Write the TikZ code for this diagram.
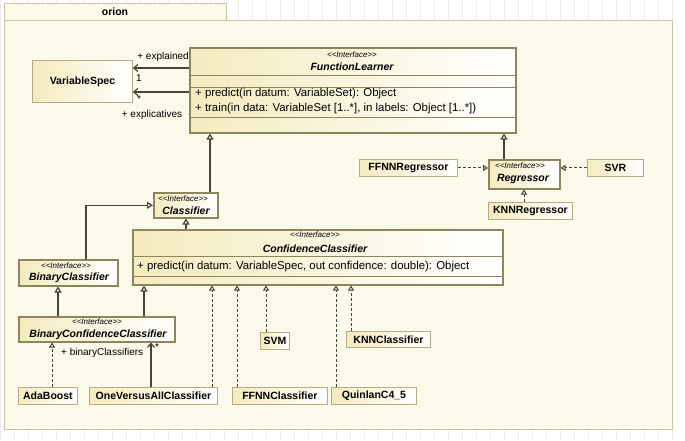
\documentclass[tikz,border=0pt]{standalone}
\usepackage{fontspec}
\setmainfont{Liberation Sans}
\usetikzlibrary{arrows.meta}
\definecolor{pkgfill}{HTML}{FBF9E9}
\definecolor{pkgline}{HTML}{C9C6A6}
\definecolor{boxl}{HTML}{F4EBBE}
\definecolor{ifline}{HTML}{8C865A}
\definecolor{clline}{HTML}{B3AC86}
\definecolor{conn}{HTML}{45453A}
\definecolor{gridc}{HTML}{ECECEC}
\tikzset{
 umlbox/.style={draw=clline, line width=0.9pt, left color=boxl, right color=white, anchor=north west, inner sep=0pt, rectangle, font=\fontsize{10.5}{12}\bfseries\selectfont},
 ifbox/.style={umlbox, draw=ifline, line width=1.5pt},
 ifnm/.style={font=\fontsize{10.5}{12}\bfseries\itshape\selectfont, inner sep=0pt},
 st/.style={font=\fontsize{8}{9}\itshape\selectfont, inner sep=0pt},
 op/.style={font=\fontsize{11.4}{13}\selectfont, inner sep=0pt, anchor=west},
 lbl/.style={font=\fontsize{10}{12}\selectfont, inner sep=0pt},
 gen/.style={draw=conn, line width=1.2pt, -{Triangle[open,length=6pt,width=7pt]}},
 real/.style={draw=conn, line width=1pt, dash pattern=on 3pt off 2pt, -{Triangle[open,length=5pt,width=6pt]}},
 assoc/.style={draw=conn, line width=1.2pt, -{Straight Barb[length=4pt,width=7pt]}},
 cline/.style={draw=ifline, line width=0.8pt},
}
\newcommand{\stereo}{<{}<Interface>{}>}
\begin{document}
\begin{tikzpicture}[x=1pt,y=-1pt]
\useasboundingbox (0,0) rectangle (685,440);
\fill[white] (0,0) rectangle (685,440);
\draw[gridc, line width=0.5pt] (0,0) grid[step=14] (685,440);
% package
\node[draw=pkgline, fill=pkgfill, line width=1pt, anchor=north west, minimum width=222pt, minimum height=17pt, inner sep=0pt] (tab) at (4,3) {};
\node[font=\fontsize{10.5}{12}\bfseries\selectfont, inner sep=0pt] (pkgname) at (115,12) {orion};
\node[draw=pkgline, fill=pkgfill, line width=1pt, anchor=north west, minimum width=668pt, minimum height=409pt, inner sep=0pt] (pkg) at (4,20) {};

% FunctionLearner
\node[ifbox, minimum width=326pt, minimum height=85pt] (FL) at (189,47) {};
\draw[cline] (189,75) -- (515,75);
\draw[cline] (189,87) -- (515,87);
\draw[cline] (189,117) -- (515,117);
\node[st] (FLs) at (352,55) {\stereo};
\node[ifnm] (FLn) at (352,67) {FunctionLearner};
\node[op] (FLo1) at (195,94) {+ predict(in datum: VariableSet): Object};
\node[op] (FLo2) at (195,109) {+ train(in data: VariableSet [1..*], in labels: Object [1..*])};

% VariableSpec
\node[umlbox, minimum width=100pt, minimum height=42pt] (VS) at (32,60) {VariableSpec};

% Classifier
\node[ifbox, minimum width=64pt, minimum height=25pt] (Cl) at (153,192) {};
\node[st] (Cls) at (183,199) {\stereo};
\node[ifnm] (Cln) at (186,211) {Classifier};

% BinaryClassifier
\node[ifbox, minimum width=99pt, minimum height=26pt] (BC) at (18,259) {};
\node[st] (BCs) at (66,266) {\stereo};
\node[ifnm] (BCn) at (69,278) {BinaryClassifier};

% ConfidenceClassifier
\node[ifbox, minimum width=370pt, minimum height=55pt] (CC) at (132,229) {};
\draw[cline] (132,256) -- (502,256);
\draw[cline] (132,276) -- (502,276);
\node[st] (CCs) at (315,235) {\stereo};
\node[ifnm] (CCn) at (315,249) {ConfidenceClassifier};
\node[op] (CCo1) at (137,267) {+ predict(in datum: VariableSpec, out confidence: double): Object};

% Regressor
\node[ifbox, minimum width=71pt, minimum height=29pt] (Reg) at (488,159) {};
\node[st] (Regs) at (520,166) {\stereo};
\node[ifnm] (Regn) at (523,179) {Regressor};

\node[umlbox, minimum width=98pt, minimum height=17pt] (FR) at (359,159) {FFNNRegressor};
\node[umlbox, minimum width=56pt, minimum height=17pt] (SVR) at (587,159) {SVR};
\node[umlbox, minimum width=84pt, minimum height=17pt] (KR) at (488,202) {KNNRegressor};

% BinaryConfidenceClassifier
\node[ifbox, minimum width=156pt, minimum height=25pt] (BCC) at (18,316) {};
\node[st] (BCCs) at (97,322) {\stereo};
\node[ifnm] (BCCn) at (98,335) {BinaryConfidenceClassifier};

% leaf classes
\node[umlbox, minimum width=59pt, minimum height=17pt] (Ada) at (18,387) {AdaBoost};
\node[umlbox, minimum width=128pt, minimum height=17pt] (OVA) at (89,387) {OneVersusAllClassifier};
\node[umlbox, minimum width=95pt, minimum height=17pt] (FC) at (232,387) {FFNNClassifier};
\node[umlbox, minimum width=29pt, minimum height=17pt] (SVM) at (260,332) {SVM};
\node[umlbox, minimum width=85pt, minimum height=17pt] (Q) at (331,387) {QuinlanC4\_5};
\node[umlbox, minimum width=84pt, minimum height=16pt] (KC) at (346,331) {KNNClassifier};

% helper coordinates
\coordinate (a1) at (189,68);
\coordinate (a2) at (189,92);
\coordinate (x210) at (210,0);
\coordinate (x86) at (86,0);
\coordinate (x186) at (186,0);
\coordinate (x504) at (504,0);
\coordinate (x524) at (524,0);
\coordinate (x58) at (58,0);
\coordinate (x144) at (144,0);
\coordinate (x52) at (52,0);
\coordinate (x151) at (151,0);
\coordinate (x212) at (212,0);
\coordinate (x237) at (237,0);
\coordinate (x266) at (266,0);
\coordinate (x336) at (336,0);
\coordinate (x351) at (351,0);

% connectors
\draw[assoc] (a1) -- (VS.east |- a1);
\draw[assoc] (a2) -- (VS.east |- a2);
\draw[gen] (Cl.north -| x210) -- (FL.south -| x210);
\draw[gen] (BC.north -| x86) |- (Cl.west);
\draw[gen] (CC.north -| x186) -- (Cl.south -| x186);
\draw[gen] (Reg.north -| x504) -- (FL.south -| x504);
\draw[real] (FR.east) -- (Reg.west |- FR.east);
\draw[real] (SVR.west) -- (Reg.east |- SVR.west);
\draw[real] (KR.north -| x524) -- (Reg.south -| x524);
\draw[gen] (BCC.north -| x58) -- (BC.south -| x58);
\draw[gen] (BCC.north -| x144) -- (CC.south -| x144);
\draw[real] (Ada.north -| x52) -- (BCC.south -| x52);
\draw[assoc] (OVA.north -| x151) -- (BCC.south -| x151);
\draw[real] (OVA.north -| x212) -- (CC.south -| x212);
\draw[real] (FC.north -| x237) -- (CC.south -| x237);
\draw[real] (SVM.north -| x266) -- (CC.south -| x266);
\draw[real] (Q.north -| x336) -- (CC.south -| x336);
\draw[real] (KC.north -| x351) -- (CC.south -| x351);

% labels
\node[lbl, anchor=east] (l1) at (189,57) {+ explained};
\node[lbl] (l2) at (139,78) {1};
\node[lbl] (l3) at (139,99) {*};
\node[lbl] (l4) at (152,115) {+ explicatives};
\node[lbl, anchor=west] (l5) at (61,353) {+ binaryClassifiers};
\node[lbl] (l6) at (157,347) {*};
\end{tikzpicture}
\end{document}
